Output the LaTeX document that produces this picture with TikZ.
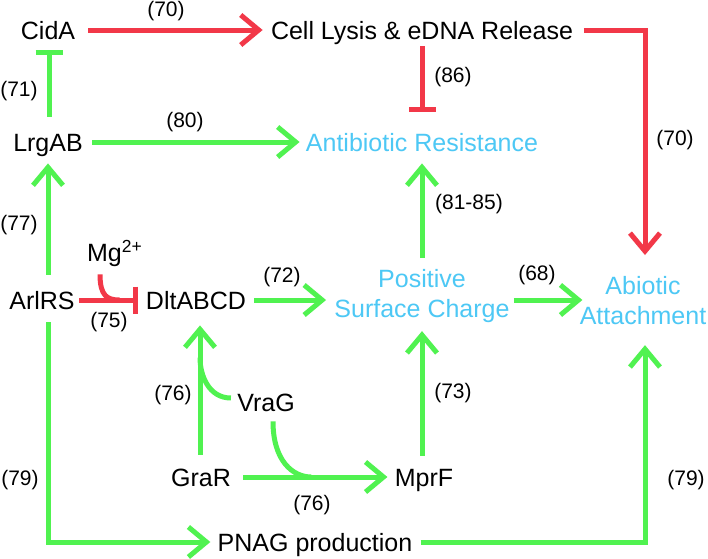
\documentclass[tikz,border=0pt]{standalone}
\usepackage{fontspec}
\setmainfont{Liberation Sans}
\usetikzlibrary{arrows.meta,calc}
\definecolor{cred}{RGB}{242,56,72}
\definecolor{cgreen}{RGB}{80,242,80}
\definecolor{ccyan}{RGB}{77,200,245}
\begin{document}
\begin{tikzpicture}[x=0.5pt,y=-0.5pt,
  every node/.style={inner sep=0pt},
  txt/.style={font=\fontsize{12.5}{15}\selectfont, text height=9pt, text depth=0pt},
  mtxt/.style={font=\fontsize{12.5}{15}\selectfont, align=center, anchor=north},
  num/.style={font=\fontsize{10.5}{12}\selectfont},
  gline/.style={draw=cgreen, line width=2.5pt},
  rline/.style={draw=cred, line width=2.5pt},
  act/.style={-{Straight Barb[length=9pt,width=15pt]}},
  inh/.style={-{Bar[width=13.5pt]}}]
\useasboundingbox[fill=white] (0,0) rectangle (708,558);

% main nodes
\node[txt] (cida) at (48,30) {CidA};
\node[txt] (lysis) at (422,30) {Cell Lysis \& eDNA Release};
\node[txt] (lrgab) at (48,142) {LrgAB};
\node[txt,text=ccyan] (abres) at (422,142) {Antibiotic Resistance};
\node[txt] (arlrs) at (42,300) {ArlRS};
\node[txt] (mg) at (115,252) {Mg\textsuperscript{2+}};
\node[txt] (dlt) at (196,300) {DltABCD};
\node[mtxt,text=ccyan] (psc) at (422,269) {Positive\\Surface Charge};
\node[mtxt,text=ccyan] (abio) at (643,276) {Abiotic\\Attachment};
\node[txt] (vrag) at (266,402) {VraG};
\node[txt] (grar) at (201,477) {GraR};
\node[txt] (mprf) at (424,477) {MprF};
\node[txt] (pnag) at (315,542) {PNAG production};

% reference labels
\node[num] (l70a) at (166,11) {(70)};
\node[num] (l86) at (453,77) {(86)};
\node[num] (l70b) at (675,140) {(70)};
\node[num] (l71) at (19,91) {(71)};
\node[num] (l80) at (185,122) {(80)};
\node[num] (l77) at (19,225) {(77)};
\node[num] (l81) at (469,204) {(81-85)};
\node[num] (l75) at (109,322) {(75)};
\node[num] (l72) at (282,277) {(72)};
\node[num] (l68) at (537,275) {(68)};
\node[num] (l76a) at (173,395) {(76)};
\node[num] (l73) at (453,393) {(73)};
\node[num] (l79a) at (20,480) {(79)};
\node[num] (l76b) at (312,505) {(76)};
\node[num] (l79b) at (686,480) {(79)};

% red connectors
\draw[rline,act] ($(cida.east)+(13,0)$) -- ($(lysis.west)+(-8,0)$);
\draw[rline,act] ($(lysis.east)+(10.5,0)$) -| ($(abio.north)+(2,-21)$);
\draw[rline,inh] ($(lysis.south)+(0,7)$) -- ($(abres.north)+(0,-21)$);
\draw[rline,inh] ($(arlrs.east)+(4,0)$) -- ($(dlt.west)+(-8,0)$);
\draw[rline] ($(mg.south)+(-15,13)$) .. controls +(0,22) and +(-12,0) .. ($(dlt.west)+(-26,0)$);

% green connectors
\draw[gline,inh] ($(lrgab.north)+(1,-16)$) -- ($(cida.south)+(1,11)$);
\draw[gline,act] ($(lrgab.east)+(9,0)$) -- ($(abres.west)+(-6,0)$);
\draw[gline,act] ($(arlrs.north -| lrgab.south)+(0,-16)$) -- ($(lrgab.south)+(0,12)$);
\draw[gline,act] ($(dlt.east)+(8,0)$) -- ($(dlt.east -| psc.west)+(-8,0)$);
\draw[gline,act] ($(dlt.east -| psc.east)+(4,0)$) -- ($(dlt.east -| abio.west)+(3,0)$);
\draw[gline,act] ($(psc.north)+(0,-11)$) -- ($(abres.south)+(0,12)$);
\draw[gline,act] ($(mprf.north)+(-2,-12)$) -- ($(psc.south)+(0,8)$);
\draw[gline,act] ($(grar.north)+(-1,-13)$) -- ($(dlt.south)+(4,16)$);
\draw[gline] ($(vrag.west)+(-6,-4)$) .. controls +(-22,0) and +(0,18) .. ($(grar.north)+(-1,-110)$);
\draw[gline,act] ($(grar.east)+(12,0)$) -- ($(mprf.west)+(-7,0)$);
\draw[gline] ($(vrag.south)+(7,10)$) .. controls +(0,40) and +(-18,0) .. ($(grar.east)+(80,0)$);
\draw[gline,act] ($(arlrs.south -| lrgab.south)+(0,13)$) |- ($(pnag.west)+(-7,0)$);
\draw[gline,act] ($(pnag.east)+(8,0)$) -| ($(abio.south)+(2,20)$);
\end{tikzpicture}
\end{document}
